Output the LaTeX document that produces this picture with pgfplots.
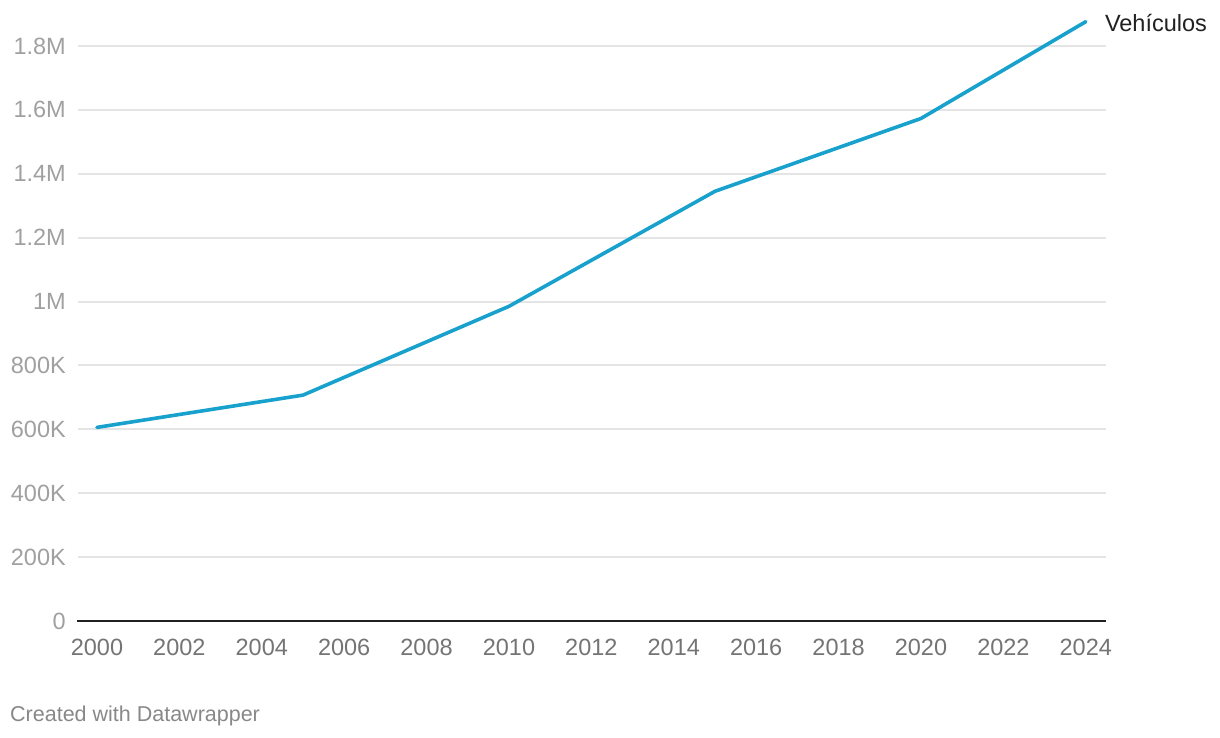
\documentclass[border=0pt]{standalone}
\usepackage{pgfplots}
\pgfplotsset{compat=1.18}
\usepackage{fontspec}
\setmainfont{Liberation Sans}
\definecolor{dwblue}{HTML}{18A1CD}
\definecolor{gridc}{HTML}{E4E4E4}
\definecolor{ylab}{HTML}{A0A0A0}
\definecolor{xlab}{HTML}{747474}
\definecolor{credit}{HTML}{888888}
\begin{document}
\begin{tikzpicture}[x=1pt,y=1pt]
\useasboundingbox (0,0) rectangle (1220,738);
\begin{axis}[
  at={(78pt,117pt)}, anchor=south west,
  scale only axis,
  width=1028pt, height=607pt,
  xmin=1999.54, xmax=2024.49,
  ymin=0, ymax=1900000,
  axis x line*=bottom, axis y line*=left,
  x axis line style={draw=none}, y axis line style={draw=none},
  xtick={2000,2002,...,2024},
  xticklabels={2000,2002,2004,2006,2008,2010,2012,2014,2016,2018,2020,2022,2024},
  ytick={0,200000,400000,600000,800000,1000000,1200000,1400000,1600000,1800000},
  yticklabels={0,200K,400K,600K,800K,1M,1.2M,1.4M,1.6M,1.8M},
  scaled y ticks=false,
  ymajorgrids,
  major grid style={draw=gridc, line width=2pt},
  major tick length=0pt,
  xticklabel shift=0pt, yticklabel shift=0pt,
  xticklabel style={font=\fontsize{23.5}{26}\selectfont, text=xlab, anchor=north, inner sep=0pt, yshift=-18pt},
  yticklabel style={font=\fontsize{23.5}{26}\selectfont, text=ylab, anchor=east, inner sep=0pt, xshift=-12pt},
  clip=false,
]
\addplot[dwblue, line width=3.6pt, line join=round, line cap=round] coordinates {
  (2000,606000) (2005,707000) (2010,985000) (2015,1345000) (2020,1573000) (2024,1876000)
};
\draw[color=black!87, line width=2.5pt] (axis cs:1999.52,0) -- (axis cs:2024.49,0);
\node[anchor=west, inner sep=0pt, text=black!87, font=\fontsize{23.5}{26}\selectfont] at (axis cs:2024,1876000) [xshift=19pt, yshift=-1pt] {Vehículos};
\end{axis}
\node[anchor=west, inner sep=0pt, text=credit, font=\fontsize{21.5}{24}\selectfont] at (10,22) {Created with Datawrapper};
\end{tikzpicture}
\end{document}
